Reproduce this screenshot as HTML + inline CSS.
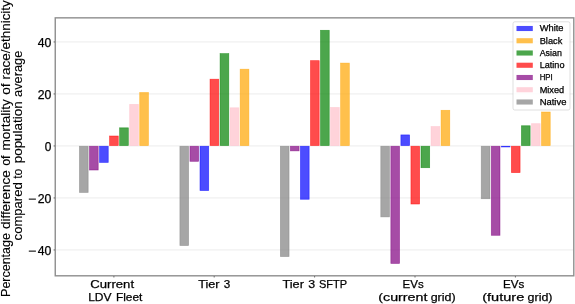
<!DOCTYPE html>
<html><head><meta charset="utf-8"><title>chart</title>
<style>
html,body{margin:0;padding:0;background:#fff;}
body{width:575px;height:304px;overflow:hidden;font-family:"Liberation Sans",sans-serif;}
svg{display:block;will-change:transform;}
text{font-family:"Liberation Sans",sans-serif;fill:#000;stroke:#000;stroke-width:0.25px;}
</style></head><body>
<svg width="575" height="304" viewBox="0 0 575 304">
<rect x="0" y="0" width="575" height="304" fill="#ffffff"/>

<line x1="55.25" x2="573.8" y1="41.95" y2="41.95" stroke="#ececec" stroke-width="1"/>
<line x1="55.25" x2="573.8" y1="93.95" y2="93.95" stroke="#ececec" stroke-width="1"/>
<line x1="55.25" x2="573.8" y1="145.95" y2="145.95" stroke="#ececec" stroke-width="1"/>
<line x1="55.25" x2="573.8" y1="197.95" y2="197.95" stroke="#ececec" stroke-width="1"/>
<line x1="55.25" x2="573.8" y1="249.95" y2="249.95" stroke="#ececec" stroke-width="1"/>
<rect x="79.45" y="146.25" width="8.70" height="46.20" fill="#808080" fill-opacity="0.7" stroke="#808080" stroke-opacity="0.6" stroke-width="0.7"/>
<rect x="89.49" y="146.25" width="8.70" height="23.76" fill="#800080" fill-opacity="0.7" stroke="#800080" stroke-opacity="0.6" stroke-width="0.7"/>
<rect x="99.54" y="146.25" width="8.70" height="16.16" fill="#0000ff" fill-opacity="0.7" stroke="#0000ff" stroke-opacity="0.6" stroke-width="0.7"/>
<rect x="109.58" y="136.00" width="8.70" height="9.55" fill="#ff0000" fill-opacity="0.7" stroke="#ff0000" stroke-opacity="0.6" stroke-width="0.7"/>
<rect x="119.63" y="127.83" width="8.70" height="17.72" fill="#008000" fill-opacity="0.7" stroke="#008000" stroke-opacity="0.6" stroke-width="0.7"/>
<rect x="129.67" y="104.36" width="8.70" height="41.19" fill="#ffc0cb" fill-opacity="0.7" stroke="#ffc0cb" stroke-opacity="0.6" stroke-width="0.7"/>
<rect x="139.72" y="92.55" width="8.70" height="53.00" fill="#ffa500" fill-opacity="0.7" stroke="#ffa500" stroke-opacity="0.6" stroke-width="0.7"/>
<rect x="179.90" y="146.25" width="8.70" height="99.30" fill="#808080" fill-opacity="0.7" stroke="#808080" stroke-opacity="0.6" stroke-width="0.7"/>
<rect x="189.94" y="146.25" width="8.70" height="15.07" fill="#800080" fill-opacity="0.7" stroke="#800080" stroke-opacity="0.6" stroke-width="0.7"/>
<rect x="199.99" y="146.25" width="8.70" height="44.31" fill="#0000ff" fill-opacity="0.7" stroke="#0000ff" stroke-opacity="0.6" stroke-width="0.7"/>
<rect x="210.03" y="79.20" width="8.70" height="66.35" fill="#ff0000" fill-opacity="0.7" stroke="#ff0000" stroke-opacity="0.6" stroke-width="0.7"/>
<rect x="220.08" y="53.64" width="8.70" height="91.91" fill="#008000" fill-opacity="0.7" stroke="#008000" stroke-opacity="0.6" stroke-width="0.7"/>
<rect x="230.12" y="107.78" width="8.70" height="37.77" fill="#ffc0cb" fill-opacity="0.7" stroke="#ffc0cb" stroke-opacity="0.6" stroke-width="0.7"/>
<rect x="240.17" y="69.21" width="8.70" height="76.34" fill="#ffa500" fill-opacity="0.7" stroke="#ffa500" stroke-opacity="0.6" stroke-width="0.7"/>
<rect x="280.35" y="146.25" width="8.70" height="110.32" fill="#808080" fill-opacity="0.7" stroke="#808080" stroke-opacity="0.6" stroke-width="0.7"/>
<rect x="290.40" y="146.25" width="8.70" height="4.62" fill="#800080" fill-opacity="0.7" stroke="#800080" stroke-opacity="0.6" stroke-width="0.7"/>
<rect x="300.44" y="146.25" width="8.70" height="53.00" fill="#0000ff" fill-opacity="0.7" stroke="#0000ff" stroke-opacity="0.6" stroke-width="0.7"/>
<rect x="310.49" y="60.65" width="8.70" height="84.90" fill="#ff0000" fill-opacity="0.7" stroke="#ff0000" stroke-opacity="0.6" stroke-width="0.7"/>
<rect x="320.53" y="30.30" width="8.70" height="115.25" fill="#008000" fill-opacity="0.7" stroke="#008000" stroke-opacity="0.6" stroke-width="0.7"/>
<rect x="330.58" y="107.47" width="8.70" height="38.08" fill="#ffc0cb" fill-opacity="0.7" stroke="#ffc0cb" stroke-opacity="0.6" stroke-width="0.7"/>
<rect x="340.62" y="63.11" width="8.70" height="82.44" fill="#ffa500" fill-opacity="0.7" stroke="#ffa500" stroke-opacity="0.6" stroke-width="0.7"/>
<rect x="380.80" y="146.25" width="8.70" height="70.63" fill="#808080" fill-opacity="0.7" stroke="#808080" stroke-opacity="0.6" stroke-width="0.7"/>
<rect x="390.85" y="146.25" width="8.70" height="117.20" fill="#800080" fill-opacity="0.7" stroke="#800080" stroke-opacity="0.6" stroke-width="0.7"/>
<rect x="400.89" y="134.91" width="8.70" height="10.64" fill="#0000ff" fill-opacity="0.7" stroke="#0000ff" stroke-opacity="0.6" stroke-width="0.7"/>
<rect x="410.94" y="146.25" width="8.70" height="57.77" fill="#ff0000" fill-opacity="0.7" stroke="#ff0000" stroke-opacity="0.6" stroke-width="0.7"/>
<rect x="420.98" y="146.25" width="8.70" height="21.45" fill="#008000" fill-opacity="0.7" stroke="#008000" stroke-opacity="0.6" stroke-width="0.7"/>
<rect x="431.03" y="126.54" width="8.70" height="19.01" fill="#ffc0cb" fill-opacity="0.7" stroke="#ffc0cb" stroke-opacity="0.6" stroke-width="0.7"/>
<rect x="441.07" y="110.30" width="8.70" height="35.25" fill="#ffa500" fill-opacity="0.7" stroke="#ffa500" stroke-opacity="0.6" stroke-width="0.7"/>
<rect x="481.25" y="146.25" width="8.70" height="52.48" fill="#808080" fill-opacity="0.7" stroke="#808080" stroke-opacity="0.6" stroke-width="0.7"/>
<rect x="491.30" y="146.25" width="8.70" height="89.05" fill="#800080" fill-opacity="0.7" stroke="#800080" stroke-opacity="0.6" stroke-width="0.7"/>
<rect x="501.34" y="146.25" width="8.70" height="0.73" fill="#0000ff" fill-opacity="0.7" stroke="#0000ff" stroke-opacity="0.6" stroke-width="0.7"/>
<rect x="511.38" y="146.25" width="8.70" height="26.36" fill="#ff0000" fill-opacity="0.7" stroke="#ff0000" stroke-opacity="0.6" stroke-width="0.7"/>
<rect x="521.43" y="125.76" width="8.70" height="19.79" fill="#008000" fill-opacity="0.7" stroke="#008000" stroke-opacity="0.6" stroke-width="0.7"/>
<rect x="531.48" y="123.68" width="8.70" height="21.87" fill="#ffc0cb" fill-opacity="0.7" stroke="#ffc0cb" stroke-opacity="0.6" stroke-width="0.7"/>
<rect x="541.52" y="112.01" width="8.70" height="33.54" fill="#ffa500" fill-opacity="0.7" stroke="#ffa500" stroke-opacity="0.6" stroke-width="0.7"/>
<rect x="55.25" y="17.85" width="518.55" height="257.95" fill="none" stroke="#8e8e8e" stroke-width="1.4"/>
<line x1="53.65" x2="54.75" y1="41.95" y2="41.95" stroke="#222" stroke-width="0.8"/>
<line x1="53.65" x2="54.75" y1="93.95" y2="93.95" stroke="#222" stroke-width="0.8"/>
<line x1="53.65" x2="54.75" y1="145.95" y2="145.95" stroke="#222" stroke-width="0.8"/>
<line x1="53.65" x2="54.75" y1="197.95" y2="197.95" stroke="#222" stroke-width="0.8"/>
<line x1="53.65" x2="54.75" y1="249.95" y2="249.95" stroke="#222" stroke-width="0.8"/>
<line x1="113.9" x2="113.9" y1="276.3" y2="277.40000000000003" stroke="#222" stroke-width="0.8"/>
<line x1="214.2" x2="214.2" y1="276.3" y2="277.40000000000003" stroke="#222" stroke-width="0.8"/>
<line x1="314.6" x2="314.6" y1="276.3" y2="277.40000000000003" stroke="#222" stroke-width="0.8"/>
<line x1="415.0" x2="415.0" y1="276.3" y2="277.40000000000003" stroke="#222" stroke-width="0.8"/>
<line x1="515.4" x2="515.4" y1="276.3" y2="277.40000000000003" stroke="#222" stroke-width="0.8"/>
<text x="37.699999999999996" y="46.75" font-size="12.2" text-anchor="start" textLength="13.6" lengthAdjust="spacingAndGlyphs">40</text>
<text x="37.699999999999996" y="98.75" font-size="12.2" text-anchor="start" textLength="13.6" lengthAdjust="spacingAndGlyphs">20</text>
<text x="44.699999999999996" y="150.75" font-size="12.2" text-anchor="start" textLength="6.6" lengthAdjust="spacingAndGlyphs">0</text>
<text x="37.699999999999996" y="202.75" font-size="12.2" text-anchor="start" textLength="13.6" lengthAdjust="spacingAndGlyphs">20</text>
<rect x="28.8" y="198.60" width="7.1" height="1.05" fill="#000"/>
<text x="37.699999999999996" y="254.75" font-size="12.2" text-anchor="start" textLength="13.6" lengthAdjust="spacingAndGlyphs">40</text>
<rect x="28.8" y="250.60" width="7.1" height="1.05" fill="#000"/>
<text x="90.30" y="288.0" font-size="11.8" text-anchor="start" textLength="43.75" lengthAdjust="spacingAndGlyphs">Current</text>
<text x="88.20" y="301.1" font-size="11.8" text-anchor="start" textLength="23.35" lengthAdjust="spacingAndGlyphs">LDV</text>
<text x="115.95" y="301.1" font-size="11.8" text-anchor="start" textLength="26.45" lengthAdjust="spacingAndGlyphs">Fleet</text>
<text x="198.30" y="288.0" font-size="11.8" text-anchor="start" textLength="21.25" lengthAdjust="spacingAndGlyphs">Tier</text>
<text x="223.70" y="288.0" font-size="11.8" text-anchor="start" textLength="6.50" lengthAdjust="spacingAndGlyphs">3</text>
<text x="282.45" y="288.0" font-size="11.8" text-anchor="start" textLength="21.45" lengthAdjust="spacingAndGlyphs">Tier</text>
<text x="308.30" y="288.0" font-size="11.8" text-anchor="start" textLength="6.90" lengthAdjust="spacingAndGlyphs">3</text>
<text x="318.95" y="288.0" font-size="11.8" text-anchor="start" textLength="28.10" lengthAdjust="spacingAndGlyphs">SFTP</text>
<text x="402.60" y="288.0" font-size="11.8" text-anchor="start" textLength="21.20" lengthAdjust="spacingAndGlyphs">EVs</text>
<text x="378.30" y="301.1" font-size="11.8" text-anchor="start" textLength="49.10" lengthAdjust="spacingAndGlyphs">(current</text>
<text x="430.70" y="301.1" font-size="11.8" text-anchor="start" textLength="24.90" lengthAdjust="spacingAndGlyphs">grid)</text>
<text x="502.90" y="288.0" font-size="11.8" text-anchor="start" textLength="21.40" lengthAdjust="spacingAndGlyphs">EVs</text>
<text x="482.20" y="301.1" font-size="11.8" text-anchor="start" textLength="42.10" lengthAdjust="spacingAndGlyphs">(future</text>
<text x="527.60" y="301.1" font-size="11.8" text-anchor="start" textLength="24.90" lengthAdjust="spacingAndGlyphs">grid)</text>
<text transform="translate(9.8,296.90) rotate(-90)" font-size="12" style="stroke-width:0.12px" textLength="63.80" lengthAdjust="spacingAndGlyphs">Percentage</text>
<text transform="translate(9.8,229.10) rotate(-90)" font-size="12" style="stroke-width:0.12px" textLength="58.90" lengthAdjust="spacingAndGlyphs">difference</text>
<text transform="translate(9.8,165.80) rotate(-90)" font-size="12" style="stroke-width:0.12px" textLength="10.35" lengthAdjust="spacingAndGlyphs">of</text>
<text transform="translate(9.8,150.55) rotate(-90)" font-size="12" style="stroke-width:0.12px" textLength="51.35" lengthAdjust="spacingAndGlyphs">mortality</text>
<text transform="translate(9.8,94.80) rotate(-90)" font-size="12" style="stroke-width:0.12px" textLength="11.35" lengthAdjust="spacingAndGlyphs">of</text>
<text transform="translate(9.8,79.40) rotate(-90)" font-size="12" style="stroke-width:0.12px" textLength="79.20" lengthAdjust="spacingAndGlyphs">race/ethnicity</text>
<text transform="translate(22.4,240.40) rotate(-90)" font-size="12" style="stroke-width:0.12px" textLength="58.10" lengthAdjust="spacingAndGlyphs">compared</text>
<text transform="translate(22.4,178.80) rotate(-90)" font-size="12" style="stroke-width:0.12px" textLength="10.20" lengthAdjust="spacingAndGlyphs">to</text>
<text transform="translate(22.4,163.30) rotate(-90)" font-size="12" style="stroke-width:0.12px" textLength="62.00" lengthAdjust="spacingAndGlyphs">population</text>
<text transform="translate(22.4,96.90) rotate(-90)" font-size="12" style="stroke-width:0.12px" textLength="46.20" lengthAdjust="spacingAndGlyphs">average</text>
<rect x="513" y="21.8" width="57" height="88.2" rx="1.8" ry="1.8" fill="#ffffff" fill-opacity="0.8" stroke="#cccccc" stroke-opacity="0.8" stroke-width="0.8"/>
<rect x="516.5" y="25.95" width="16.3" height="5.1" fill="#4c4cff"/>
<text x="539.7" y="31.25" font-size="8.5" text-anchor="start" textLength="23.8" lengthAdjust="spacingAndGlyphs">White</text>
<rect x="516.5" y="38.20" width="16.3" height="5.1" fill="#ffc04c"/>
<text x="539.7" y="43.50" font-size="8.5" text-anchor="start" textLength="22.6" lengthAdjust="spacingAndGlyphs">Black</text>
<rect x="516.5" y="50.45" width="16.3" height="5.1" fill="#4ca64c"/>
<text x="539.7" y="55.75" font-size="8.5" text-anchor="start" textLength="22.2" lengthAdjust="spacingAndGlyphs">Asian</text>
<rect x="516.5" y="62.70" width="16.3" height="5.1" fill="#ff4c4c"/>
<text x="539.7" y="68.00" font-size="8.5" text-anchor="start" textLength="24.8" lengthAdjust="spacingAndGlyphs">Latino</text>
<rect x="516.5" y="74.95" width="16.3" height="5.1" fill="#a64ca6"/>
<text x="539.7" y="80.25" font-size="8.5" text-anchor="start" textLength="13.0" lengthAdjust="spacingAndGlyphs">HPI</text>
<rect x="516.5" y="87.20" width="16.3" height="5.1" fill="#ffd3db"/>
<text x="539.7" y="92.50" font-size="8.5" text-anchor="start" textLength="24.5" lengthAdjust="spacingAndGlyphs">Mixed</text>
<rect x="516.5" y="99.45" width="16.3" height="5.1" fill="#a6a6a6"/>
<text x="539.7" y="104.75" font-size="8.5" text-anchor="start" textLength="26.7" lengthAdjust="spacingAndGlyphs">Native</text>
</svg></body></html>
